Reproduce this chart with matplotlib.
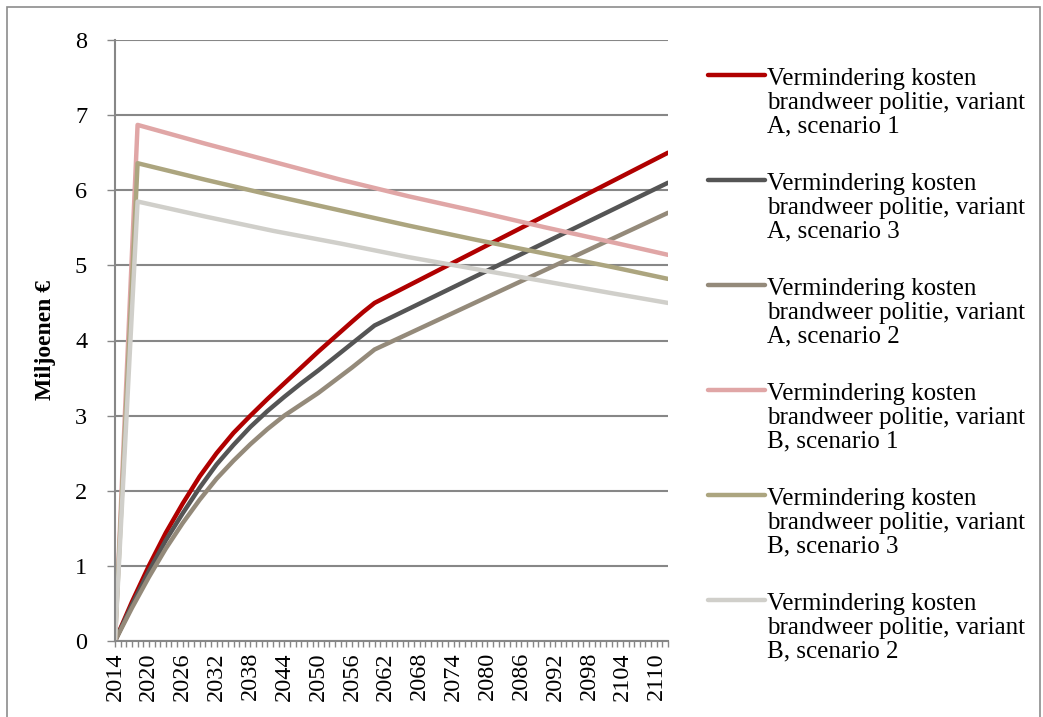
import matplotlib.pyplot as plt
from matplotlib.lines import Line2D
from matplotlib.patches import Rectangle

plt.rcParams['font.family'] = ['Liberation Serif', 'DejaVu Serif']

# Values (million euro)
years_a = [2014, 2017, 2020, 2023, 2026, 2029, 2032, 2035, 2038, 2041, 2044,
           2047, 2050, 2053, 2056, 2058, 2060, 2112]
a_scen1 = [0.0, 0.52, 1.0, 1.44, 1.83, 2.19, 2.50, 2.77, 3.0, 3.22, 3.43,
           3.64, 3.85, 4.05, 4.25, 4.38, 4.5, 6.5]
a_scen3 = [0.0, 0.48, 0.93, 1.34, 1.70, 2.04, 2.35, 2.61, 2.85, 3.06, 3.25,
           3.43, 3.60, 3.78, 3.96, 4.08, 4.2, 6.1]
a_scen2 = [0.0, 0.44, 0.85, 1.23, 1.57, 1.88, 2.16, 2.40, 2.62, 2.82, 3.0,
           3.15, 3.30, 3.47, 3.64, 3.76, 3.88, 5.7]

years_b = [2014, 2018, 2030, 2042, 2054, 2066, 2078, 2090, 2102, 2112]
b_scen1 = [0.0, 6.87, 6.62, 6.38, 6.14, 5.92, 5.72, 5.51, 5.31, 5.14]
b_scen3 = [0.0, 6.36, 6.14, 5.93, 5.73, 5.53, 5.34, 5.16, 4.98, 4.82]
b_scen2 = [0.0, 5.85, 5.65, 5.46, 5.29, 5.11, 4.95, 4.79, 4.63, 4.50]

labels = [
    'Vermindering kosten\nbrandweer politie, variant\nA, scenario 1',
    'Vermindering kosten\nbrandweer politie, variant\nA, scenario 3',
    'Vermindering kosten\nbrandweer politie, variant\nA, scenario 2',
    'Vermindering kosten\nbrandweer politie, variant\nB, scenario 1',
    'Vermindering kosten\nbrandweer politie, variant\nB, scenario 3',
    'Vermindering kosten\nbrandweer politie, variant\nB, scenario 2',
]
colors = ['#B00000', '#555555', '#948A7A', '#E0A6A6', '#ACA57F', '#D0CFCA']

series = [
    (years_a, a_scen1), (years_a, a_scen3), (years_a, a_scen2),
    (years_b, b_scen1), (years_b, b_scen3), (years_b, b_scen2),
]

W, H = 1043, 717
fig = plt.figure(figsize=(W / 100, H / 100), dpi=100)
ax = fig.add_axes([115 / W, 1 - 641 / H, (668 - 115) / W, (641 - 40) / H])

for (x, y), c in zip(series, colors):
    ax.plot(x, y, color=c, lw=3.2, solid_capstyle='round', solid_joinstyle='round')

grid_col = '#878787'
ax.set_xlim(2014, 2112)
ax.set_ylim(0, 8)
ax.set_yticks(range(0, 9))
ax.set_xticks(range(2014, 2112, 6))
ax.set_xticks(range(2014, 2113), minor=True)
ax.tick_params(axis='x', which='both', direction='out', length=4, width=1,
               color=grid_col, labelrotation=90, labelsize=17.5, pad=4)
ax.tick_params(axis='y', which='major', direction='out', length=6, width=1,
               color=grid_col, labelsize=17.5, pad=14)
ax.yaxis.grid(True, color=grid_col, lw=1.5)
ax.set_axisbelow(True)
for s in ['top', 'right']:
    ax.spines[s].set_visible(False)
for s in ['left', 'bottom']:
    ax.spines[s].set_color(grid_col)
    ax.spines[s].set_linewidth(1.5)

fig.text(45 / W, 1 - 340 / H, 'Miljoenen €', rotation=90, fontsize=17,
         fontweight='bold', ha='center', va='center')

# legend, handle aligned with first text line
for i, (lab, c) in enumerate(zip(labels, colors)):
    yp = 75 + 105 * i
    fig.add_artist(Line2D([708 / W, 765 / W], [1 - yp / H, 1 - yp / H],
                          color=c, lw=3.2, solid_capstyle='round'))
    fig.text(767 / W, 1 - (yp + 28) / H, lab, fontsize=18, ha='left',
             va='center', linespacing=1.1)

fig.add_artist(Rectangle((7 / W, -0.05), (1040 - 7) / W, 1.05 - 7 / H,
                         transform=fig.transFigure, fill=False,
                         edgecolor='#8C8C8C', lw=1.2))

fig.savefig('out.png', dpi=100)
